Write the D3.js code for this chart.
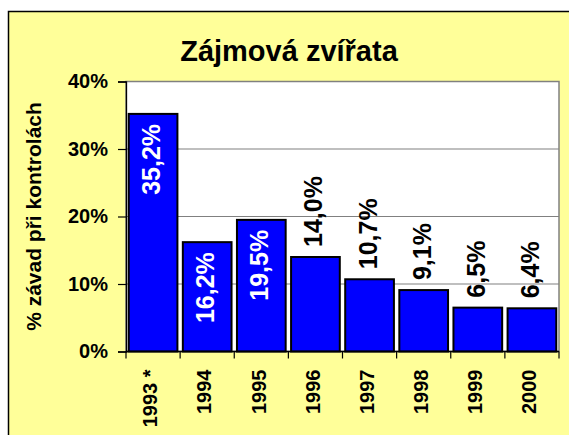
<!DOCTYPE html>
<html>
<head>
<meta charset="utf-8">
<script src="https://cdn.jsdelivr.net/npm/d3@7"></script>
<style>
  html, body { margin: 0; padding: 0; background: #ffffff; }
  svg { display: block; }
  text { font-family: Arial, "Liberation Sans", sans-serif; font-weight: bold; }
</style>
</head>
<body>
<svg id="chart" width="569" height="435"></svg>
<script>
// Podíl závad při kontrolách – zájmová zvířata
const years = ["1993 *", "1994", "1995", "1996", "1997", "1998", "1999", "2000"];
const values = [35.2, 16.2, 19.5, 14.0, 10.7, 9.1, 6.5, 6.4];
const labels = ["35,2%", "16,2%", "19,5%", "14,0%", "10,7%", "9,1%", "6,5%", "6,4%"];
const yTicks = [0, 10, 20, 30, 40];
const labelInside = [true, true, true, false, false, false, false, false];

const svg = d3.select("#chart");

// chart area
svg.append("rect")
  .attr("x", 8.5).attr("y", 11.5)
  .attr("width", 620).attr("height", 500)
  .attr("fill", "#ffff99")
  .attr("stroke", "#000").attr("stroke-width", 1.5);

const plot = { left: 126, top: 81.5, right: 559, bottom: 351.5 };

const x = d3.scaleBand()
  .domain(years)
  .range([plot.left, plot.right])
  .paddingInner(0.1)
  .paddingOuter(0.05);

const y = d3.scaleLinear()
  .domain([0, 40])
  .range([plot.bottom, plot.top]);

// plot background
svg.append("rect")
  .attr("x", plot.left).attr("y", plot.top)
  .attr("width", plot.right - plot.left)
  .attr("height", plot.bottom - plot.top)
  .attr("fill", "#ffffff")
  .attr("stroke", "#808080").attr("stroke-width", 1.5);

// gridlines
svg.append("g")
  .selectAll("line")
  .data(yTicks.filter(t => t > 0 && t < 40))
  .join("line")
  .attr("x1", plot.left).attr("x2", plot.right)
  .attr("y1", d => y(d)).attr("y2", d => y(d))
  .attr("stroke", "#808080").attr("stroke-width", 1.2);

// bars
svg.append("g")
  .selectAll("rect")
  .data(values)
  .join("rect")
  .attr("x", (d, i) => x(years[i]))
  .attr("y", d => y(d))
  .attr("width", x.bandwidth())
  .attr("height", d => y(0) - y(d))
  .attr("fill", "#0000ff")
  .attr("stroke", "#000")
  .attr("stroke-width", 2);

// value labels
svg.append("g")
  .selectAll("text")
  .data(values)
  .join("text")
  .attr("transform", (d, i) => {
    const cx = x(years[i]) + x.bandwidth() / 2 - 2;
    const cy = labelInside[i] ? y(d) + 10 : y(d) - 10;
    return `translate(${cx},${cy}) rotate(-90)`;
  })
  .attr("text-anchor", (d, i) => labelInside[i] ? "end" : "start")
  .attr("dy", "0.36em")
  .attr("font-size", 25)
  .attr("fill", (d, i) => labelInside[i] ? "#ffffff" : "#000000")
  .text((d, i) => labels[i]);

// y axis
const yAxis = d3.axisLeft(y)
  .tickValues(yTicks)
  .tickFormat(d => d + "%")
  .tickSize(8)
  .tickPadding(10);

const gy = svg.append("g")
  .attr("transform", `translate(${plot.left},0)`)
  .call(yAxis);
gy.select(".domain").attr("stroke", "#000").attr("stroke-width", 1.3);
gy.selectAll(".tick line").attr("stroke", "#000").attr("stroke-width", 1.2);
gy.selectAll(".tick text")
  .attr("font-size", 20)
  .attr("font-family", "Arial, 'Liberation Sans', sans-serif")
  .attr("font-weight", "bold")
  .attr("fill", "#000");

// x axis: baseline and category separators
svg.append("line")
  .attr("x1", plot.left).attr("x2", plot.right)
  .attr("y1", plot.bottom).attr("y2", plot.bottom)
  .attr("stroke", "#000").attr("stroke-width", 1.3);

const step = x.step();
const bounds = d3.range(years.length + 1).map(i => plot.left + i * (plot.right - plot.left) / years.length);
svg.append("g")
  .selectAll("line")
  .data(bounds)
  .join("line")
  .attr("x1", d => d).attr("x2", d => d)
  .attr("y1", plot.bottom).attr("y2", plot.bottom + 7)
  .attr("stroke", "#000").attr("stroke-width", 1.2);

svg.append("g")
  .selectAll("text")
  .data(years)
  .join("text")
  .attr("transform", d => `translate(${x(d) + x.bandwidth() / 2 - 3},${plot.bottom + 18}) rotate(-90)`)
  .attr("text-anchor", "end")
  .attr("dy", "0.36em")
  .attr("font-size", 20)
  .attr("fill", "#000")
  .text(d => d);

// y axis title
svg.append("text")
  .attr("transform", `translate(41,${(plot.top + plot.bottom) / 2}) rotate(-90)`)
  .attr("text-anchor", "middle")
  .attr("font-size", 21)
  .attr("fill", "#000")
  .text("% závad při kontrolách");

// title
svg.append("text")
  .attr("x", 289).attr("y", 61)
  .attr("text-anchor", "middle")
  .attr("font-size", 29)
  .attr("fill", "#000")
  .text("Zájmová zvířata");
</script>
</body>
</html>
